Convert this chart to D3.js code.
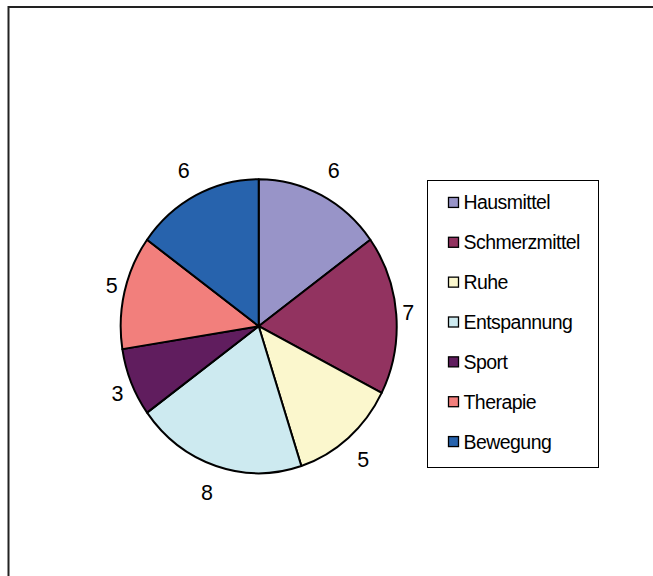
<!DOCTYPE html>
<html>
<head>
<meta charset="utf-8">
<script src="https://cdn.jsdelivr.net/npm/d3@7"></script>
<style>
  html, body { margin: 0; padding: 0; background: #fff; }
  svg { display: block; }
  text { font-family: "Liberation Sans", Arial, sans-serif; fill: #000; }
</style>
</head>
<body>
<svg id="chart" width="653" height="576"></svg>
<script>
// Categories, counts and slice colours
const categories = ["Hausmittel", "Schmerzmittel", "Ruhe", "Entspannung", "Sport", "Therapie", "Bewegung"];
const values = [6, 7, 5, 8, 3, 5, 6];
const colors = ["#9894c8", "#923360", "#fbf7cd", "#cdeaf0", "#601d5e", "#f27f7c", "#2763ad"];

const svg = d3.select("#chart");
const W = 653, H = 576;

// Chart area frame (runs off the right and bottom edges)
svg.append("rect")
  .attr("x", 8.5).attr("y", 7)
  .attr("width", W + 20).attr("height", H + 20)
  .attr("fill", "none")
  .attr("stroke", "#222")
  .attr("stroke-width", 2);

// Pie geometry: plot area is slightly taller than wide, so the pie is an ellipse
const cx = 258.7, cy = 326.2, rx = 138, ry = 147;

const color = d3.scaleOrdinal().domain(categories).range(colors);
const data = categories.map((c, i) => ({ name: c, value: values[i] }));

const pie = d3.pie().value(d => d.value).sort(null);
const arcs = pie(data);
const arc = d3.arc().innerRadius(0).outerRadius(1);

const g = svg.append("g")
  .attr("transform", `translate(${cx},${cy}) scale(${rx},${ry})`);

g.selectAll("path")
  .data(arcs)
  .join("path")
  .attr("d", arc)
  .attr("fill", d => color(d.data.name))
  .attr("stroke", "#000")
  .attr("stroke-width", 2)
  .attr("stroke-linejoin", "round")
  .attr("vector-effect", "non-scaling-stroke");

// Value labels just outside the rim
svg.append("g").selectAll("text")
  .data(arcs)
  .join("text")
  .attr("x", d => {
    const a = (d.startAngle + d.endAngle) / 2;
    const c = Math.cos(a);
    return cx + (rx + 12 + 19 * c * c) * Math.sin(a);
  })
  .attr("y", d => {
    const a = (d.startAngle + d.endAngle) / 2;
    return cy - (ry + 28) * Math.cos(a);
  })
  .attr("text-anchor", "middle")
  .attr("dy", "0.36em")
  .style("font-size", "21.5px")
  .text(d => d.data.value);

// Legend
const lx = 427.5, ly = 180.5, lw = 171, lh = 287;
const legend = svg.append("g");
legend.append("rect")
  .attr("x", lx).attr("y", ly)
  .attr("width", lw).attr("height", lh)
  .attr("fill", "#fff")
  .attr("stroke", "#000")
  .attr("stroke-width", 1);

const rowScale = d3.scaleBand().domain(categories).range([182.5, 461.5]);

const rows = legend.selectAll("g.row")
  .data(categories)
  .join("g")
  .attr("class", "row")
  .attr("transform", d => `translate(0,${rowScale(d) + rowScale.bandwidth() / 2})`);

rows.append("rect")
  .attr("x", 448.5).attr("y", -5)
  .attr("width", 10).attr("height", 10)
  .attr("fill", d => color(d))
  .attr("stroke", "#000")
  .attr("stroke-width", 1.3);

rows.append("text")
  .attr("x", 463.5)
  .attr("dy", "0.36em")
  .style("font-size", "19.5px")
  .style("letter-spacing", "-0.55px")
  .text(d => d);
</script>
</body>
</html>
